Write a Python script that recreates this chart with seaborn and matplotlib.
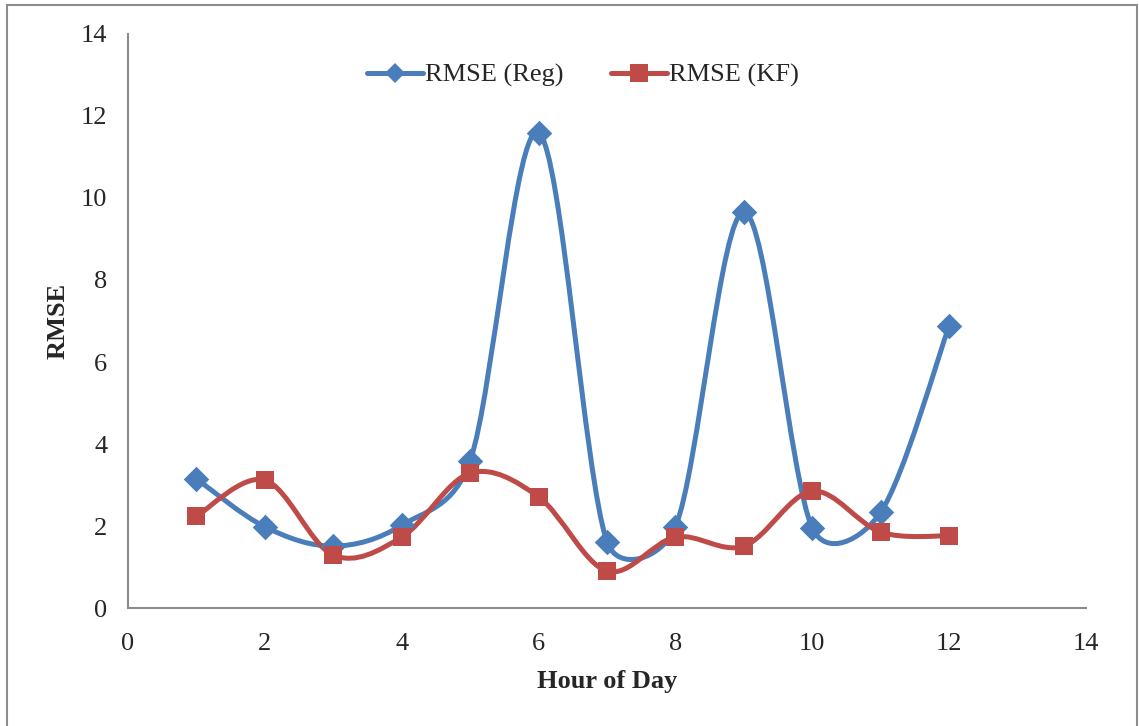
#!/usr/bin/env python

import matplotlib

matplotlib.use("Agg")
import matplotlib.pyplot as plt
import numpy as np
import pandas as pd
import seaborn as sns
from matplotlib.lines import Line2D
from matplotlib.patches import PathPatch, Rectangle
from matplotlib.path import Path

hours = [1, 2, 3, 4, 5, 6, 7, 8, 9, 10, 11, 12]
rmse_reg = [3.15, 1.98, 1.51, 2.02, 3.59, 11.59, 1.61, 1.98, 9.66, 1.95, 2.34, 6.88]
rmse_kf = [2.24, 3.12, 1.29, 1.73, 3.29, 2.71, 0.90, 1.73, 1.51, 2.85, 1.85, 1.76]

BLUE = "#4a7ebb"
RED = "#be4b48"


def smooth_path(ax, x, y, k=0.55):
    # Excel-like smoothed line: catmull-rom bezier, control arms shortened
    # on short segments (done in display space)
    data = np.column_stack([x, y]).astype(float)
    p = ax.transData.transform(data)
    p = np.vstack([p[0], p, p[-1]])
    verts = [p[1]]
    codes = [Path.MOVETO]
    for i in range(1, len(p) - 2):
        d_prev = np.linalg.norm(p[i] - p[i - 1])
        d_seg = np.linalg.norm(p[i + 1] - p[i])
        d_next = np.linalg.norm(p[i + 2] - p[i + 1])
        f1 = min(1 / 6, k * d_seg / (d_prev + d_seg))
        f2 = min(1 / 6, k * d_seg / (d_seg + d_next))
        c1 = p[i] + (p[i + 1] - p[i - 1]) * f1
        c2 = p[i + 1] - (p[i + 2] - p[i]) * f2
        verts += [c1, c2, p[i + 1]]
        codes += [Path.CURVE4] * 3
    verts = ax.transData.inverted().transform(np.array(verts))
    return Path(verts, codes)


df = pd.DataFrame({"hour": hours, "reg": rmse_reg, "kf": rmse_kf})

sns.set_style("white")
plt.rcParams["font.family"] = ["Liberation Serif", "DejaVu Serif"]

fig = plt.figure(figsize=(11.39, 7.26), dpi=100)
ax = fig.add_axes([0.1124, 0.1625, 0.8411, 0.7907])
ax.set_xlim(0, 14)
ax.set_ylim(0, 14)

for col, color, marker, ms in [("reg", BLUE, "D", 13), ("kf", RED, "s", 13.5)]:
    ax.add_patch(
        PathPatch(
            smooth_path(ax, df["hour"], df[col]),
            facecolor="none",
            edgecolor=color,
            lw=3.6,
            capstyle="round",
            joinstyle="round",
            zorder=2,
        )
    )
    sns.scatterplot(
        data=df,
        x="hour",
        y=col,
        ax=ax,
        marker=marker,
        s=ms**2,
        color=color,
        edgecolor=color,
        linewidth=0,
        zorder=3,
    )

ax.set_xlim(0, 14)
ax.set_ylim(0, 14)
ax.set_xticks(range(0, 15, 2))
ax.set_yticks(range(0, 15, 2))
ax.tick_params(labelsize=19, length=0)
ax.tick_params(axis="x", pad=18)
ax.tick_params(axis="y", pad=15)
ax.set_xlabel("Hour of Day", fontsize=19, fontweight="bold", labelpad=11)
ax.set_ylabel("RMSE", fontsize=19, fontweight="bold", labelpad=8)
for side in ["top", "right"]:
    ax.spines[side].set_visible(False)
for side in ["left", "bottom"]:
    ax.spines[side].set_color("#8c8c8c")
    ax.spines[side].set_linewidth(1.5)

handles = [
    Line2D([], [], color=BLUE, lw=3.6, marker="D", ms=10, markeredgewidth=0),
    Line2D([], [], color=RED, lw=3.6, marker="s", ms=13.5, markeredgewidth=0),
]
ax.legend(
    handles,
    ["RMSE (Reg)", "RMSE (KF)"],
    loc="upper center",
    bbox_to_anchor=(0.475, 0.99),
    ncol=2,
    frameon=False,
    fontsize=19,
    handlelength=2.1,
    handletextpad=0.1,
    columnspacing=1.8,
)

fig.patches.append(
    Rectangle(
        (7 / 1139, -0.1),
        1130 / 1139,
        1.1 - 5 / 726,
        transform=fig.transFigure,
        fill=False,
        edgecolor="#8c8c8c",
        lw=1.5,
    )
)

fig.savefig("out.png", dpi=100)
